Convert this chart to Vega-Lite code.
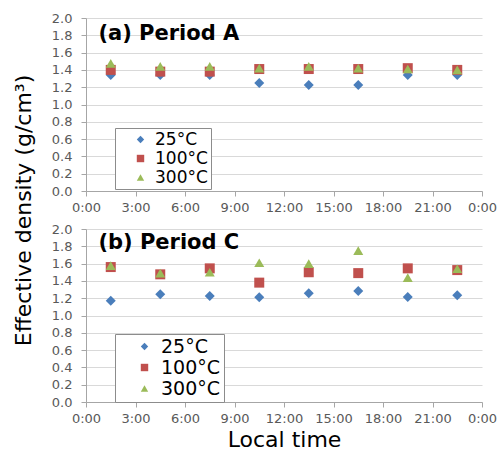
{
  "$schema": "https://vega.github.io/schema/vega-lite/v6.json",
  "background": "white",
  "padding": {"left": 12, "top": 12, "right": 5, "bottom": 3},
  "bounds": "flush",
  "spacing": 38,
  "config": {
    "font": "DejaVu Sans",
    "view": {"stroke": null},
    "axis": {
      "labelFont": "DejaVu Sans",
      "labelFontSize": 13,
      "labelColor": "#595959",
      "labelOverlap": false,
      "labelFlush": false,
      "labelBound": false,
      "domainColor": "#a6a6a6",
      "tickColor": "#a6a6a6",
      "gridColor": "#d9d9d9",
      "titleFont": "DejaVu Sans",
      "titleFontWeight": "normal",
      "titleColor": "#000000"
    }
  },
  "datasets": {
    "d": [
      {"panel": "A", "temp": "25°C", "time": 1.5, "density": 1.34},
      {"panel": "A", "temp": "25°C", "time": 4.5, "density": 1.34},
      {"panel": "A", "temp": "25°C", "time": 7.5, "density": 1.34},
      {"panel": "A", "temp": "25°C", "time": 10.5, "density": 1.25},
      {"panel": "A", "temp": "25°C", "time": 13.5, "density": 1.225},
      {"panel": "A", "temp": "25°C", "time": 16.5, "density": 1.225},
      {"panel": "A", "temp": "25°C", "time": 19.5, "density": 1.34},
      {"panel": "A", "temp": "25°C", "time": 22.5, "density": 1.34},
      {"panel": "A", "temp": "100°C", "time": 1.5, "density": 1.40},
      {"panel": "A", "temp": "100°C", "time": 4.5, "density": 1.38},
      {"panel": "A", "temp": "100°C", "time": 7.5, "density": 1.38},
      {"panel": "A", "temp": "100°C", "time": 10.5, "density": 1.41},
      {"panel": "A", "temp": "100°C", "time": 13.5, "density": 1.41},
      {"panel": "A", "temp": "100°C", "time": 16.5, "density": 1.41},
      {"panel": "A", "temp": "100°C", "time": 19.5, "density": 1.42},
      {"panel": "A", "temp": "100°C", "time": 22.5, "density": 1.40},
      {"panel": "A", "temp": "300°C", "time": 1.5, "density": 1.475},
      {"panel": "A", "temp": "300°C", "time": 4.5, "density": 1.44},
      {"panel": "A", "temp": "300°C", "time": 7.5, "density": 1.44},
      {"panel": "A", "temp": "300°C", "time": 10.5, "density": 1.42},
      {"panel": "A", "temp": "300°C", "time": 13.5, "density": 1.44},
      {"panel": "A", "temp": "300°C", "time": 16.5, "density": 1.42},
      {"panel": "A", "temp": "300°C", "time": 19.5, "density": 1.41},
      {"panel": "A", "temp": "300°C", "time": 22.5, "density": 1.40},
      {"panel": "C", "temp": "25°C", "time": 1.5, "density": 1.17},
      {"panel": "C", "temp": "25°C", "time": 4.5, "density": 1.245},
      {"panel": "C", "temp": "25°C", "time": 7.5, "density": 1.225},
      {"panel": "C", "temp": "25°C", "time": 10.5, "density": 1.21},
      {"panel": "C", "temp": "25°C", "time": 13.5, "density": 1.257},
      {"panel": "C", "temp": "25°C", "time": 16.5, "density": 1.283},
      {"panel": "C", "temp": "25°C", "time": 19.5, "density": 1.215},
      {"panel": "C", "temp": "25°C", "time": 22.5, "density": 1.235},
      {"panel": "C", "temp": "100°C", "time": 1.5, "density": 1.56},
      {"panel": "C", "temp": "100°C", "time": 4.5, "density": 1.476},
      {"panel": "C", "temp": "100°C", "time": 7.5, "density": 1.545},
      {"panel": "C", "temp": "100°C", "time": 10.5, "density": 1.38},
      {"panel": "C", "temp": "100°C", "time": 13.5, "density": 1.50},
      {"panel": "C", "temp": "100°C", "time": 16.5, "density": 1.49},
      {"panel": "C", "temp": "100°C", "time": 19.5, "density": 1.545},
      {"panel": "C", "temp": "100°C", "time": 22.5, "density": 1.525},
      {"panel": "C", "temp": "300°C", "time": 1.5, "density": 1.576},
      {"panel": "C", "temp": "300°C", "time": 4.5, "density": 1.49},
      {"panel": "C", "temp": "300°C", "time": 7.5, "density": 1.50},
      {"panel": "C", "temp": "300°C", "time": 10.5, "density": 1.61},
      {"panel": "C", "temp": "300°C", "time": 13.5, "density": 1.60},
      {"panel": "C", "temp": "300°C", "time": 16.5, "density": 1.75},
      {"panel": "C", "temp": "300°C", "time": 19.5, "density": 1.437},
      {"panel": "C", "temp": "300°C", "time": 22.5, "density": 1.54}
    ]
  },
  "resolve": {"legend": {"color": "independent", "shape": "independent"}},
  "vconcat": [
    {
      "width": 396,
      "height": 173,
      "layer": [
        {
          "data": {"name": "d"},
          "transform": [{"filter": "datum.panel == 'A'"}],
          "mark": {"type": "point", "filled": true, "size": 100, "opacity": 1},
          "encoding": {
            "x": {"field": "time", "type": "quantitative",
              "scale": {"domain": [0, 24], "nice": false},
              "axis": {"values": [0, 3, 6, 9, 12, 15, 18, 21, 24], "tickCount": 9, "labelExpr": "(datum.value % 24) + ':00'", "title": null, "grid": false, "tickSize": 5, "labelPadding": 5}},
            "y": {"field": "density", "type": "quantitative",
              "scale": {"domain": [0, 2], "nice": false},
              "axis": {"values": [0, 0.2, 0.4, 0.6, 0.8, 1.0, 1.2, 1.4, 1.6, 1.8, 2.0], "tickCount": 11, "format": ".1f", "title": "Effective density (g/cm³)", "titleFontSize": 22, "titleX": -51, "titleY": 192, "titleAlign": "center", "titleBaseline": "bottom", "titleAngle": -90, "grid": true, "tickSize": 5, "labelPadding": 9}},
            "color": {"field": "temp", "type": "nominal",
              "scale": {"domain": ["25°C", "100°C", "300°C"], "range": ["#4a7ebb", "#c0504d", "#9bbb59"]},
              "legend": {"title": null, "orient": "none", "legendX": 29, "legendY": 110, "strokeColor": "#8c8c8c", "fillColor": "white", "padding": 3, "labelFontSize": 17, "labelFont": "DejaVu Sans", "labelColor": "#000000", "symbolSize": 55, "symbolOffset": 14, "labelOffset": 6, "rowPadding": 1}},
            "shape": {"field": "temp", "type": "nominal",
              "scale": {"domain": ["25°C", "100°C", "300°C"], "range": ["diamond", "square", "triangle-up"]},
              "legend": {"title": null, "orient": "none", "legendX": 29, "legendY": 110, "strokeColor": "#8c8c8c", "fillColor": "white", "padding": 3, "labelFontSize": 17, "labelFont": "DejaVu Sans", "labelColor": "#000000", "symbolSize": 55, "symbolOffset": 14, "labelOffset": 6, "rowPadding": 1}}
          }
        },
        {
          "data": {"values": [{}]},
          "mark": {"type": "text", "text": "(a) Period A", "font": "DejaVu Sans", "fontWeight": "bold", "fontSize": 21, "align": "left", "baseline": "alphabetic", "color": "#000000"},
          "encoding": {
            "x": {"datum": 0.75, "type": "quantitative"},
            "y": {"datum": 1.75, "type": "quantitative"}
          }
        }
      ]
    },
    {
      "width": 396,
      "height": 173,
      "layer": [
        {
          "data": {"name": "d"},
          "transform": [{"filter": "datum.panel == 'C'"}],
          "mark": {"type": "point", "filled": true, "size": 100, "opacity": 1},
          "encoding": {
            "x": {"field": "time", "type": "quantitative",
              "scale": {"domain": [0, 24], "nice": false},
              "axis": {"values": [0, 3, 6, 9, 12, 15, 18, 21, 24], "tickCount": 9, "labelExpr": "(datum.value % 24) + ':00'", "title": "Local time", "titleFontSize": 22, "titlePadding": 4, "grid": false, "tickSize": 5, "labelPadding": 5}},
            "y": {"field": "density", "type": "quantitative",
              "scale": {"domain": [0, 2], "nice": false},
              "axis": {"values": [0, 0.2, 0.4, 0.6, 0.8, 1.0, 1.2, 1.4, 1.6, 1.8, 2.0], "tickCount": 11, "format": ".1f", "title": null, "grid": true, "tickSize": 5, "labelPadding": 9}},
            "color": {"field": "temp", "type": "nominal",
              "scale": {"domain": ["25°C", "100°C", "300°C"], "range": ["#4a7ebb", "#c0504d", "#9bbb59"]},
              "legend": {"title": null, "orient": "none", "legendX": 29, "legendY": 105, "strokeColor": "#8c8c8c", "fillColor": "white", "padding": 3, "labelFontSize": 19, "labelFont": "DejaVu Sans", "labelColor": "#000000", "symbolSize": 55, "symbolOffset": 17, "labelOffset": 7, "rowPadding": 1}},
            "shape": {"field": "temp", "type": "nominal",
              "scale": {"domain": ["25°C", "100°C", "300°C"], "range": ["diamond", "square", "triangle-up"]},
              "legend": {"title": null, "orient": "none", "legendX": 29, "legendY": 105, "strokeColor": "#8c8c8c", "fillColor": "white", "padding": 3, "labelFontSize": 19, "labelFont": "DejaVu Sans", "labelColor": "#000000", "symbolSize": 55, "symbolOffset": 17, "labelOffset": 7, "rowPadding": 1}}
          }
        },
        {
          "data": {"values": [{}]},
          "mark": {"type": "text", "text": "(b) Period C", "font": "DejaVu Sans", "fontWeight": "bold", "fontSize": 21, "align": "left", "baseline": "alphabetic", "color": "#000000"},
          "encoding": {
            "x": {"datum": 0.75, "type": "quantitative"},
            "y": {"datum": 1.77, "type": "quantitative"}
          }
        }
      ]
    }
  ]
}
